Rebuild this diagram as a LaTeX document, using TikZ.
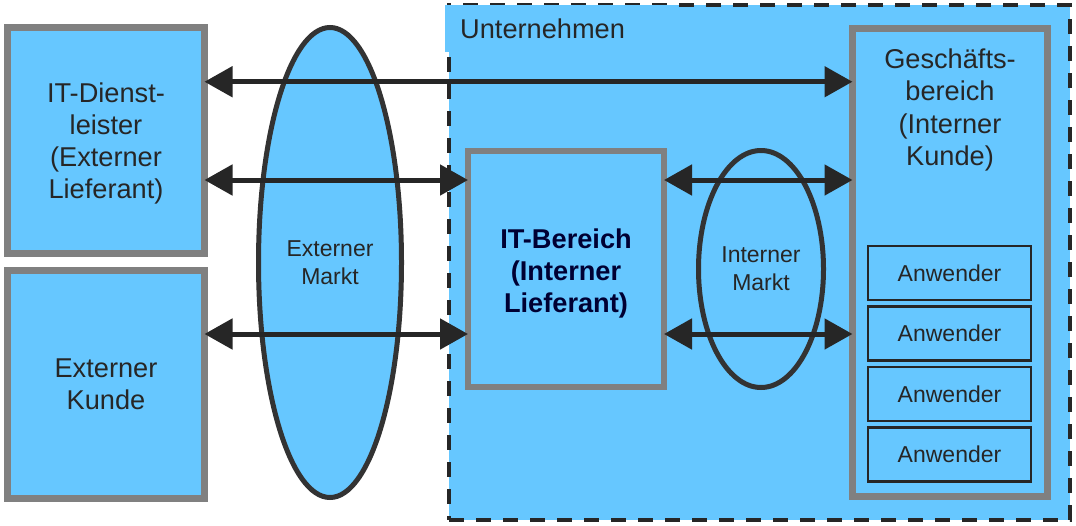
\documentclass[tikz,border=0pt]{standalone}
\usepackage{fontspec}
\setmainfont{Liberation Sans}
\usetikzlibrary{shapes.geometric, arrows.meta, positioning, calc}
\definecolor{skyfill}{RGB}{102,199,255}
\definecolor{boxgray}{RGB}{128,128,128}
\definecolor{darkline}{RGB}{38,38,38}
\definecolor{ringgray}{RGB}{51,51,51}
\definecolor{navytext}{RGB}{0,0,51}
\newcommand{\firstline}[1]{\rule{0pt}{#1}}

\begin{document}
\begin{tikzpicture}[
    x=1pt, y=-1pt,
    font=\fontsize{27.2}{32}\selectfont,
    text=darkline,
    party/.style    = {rectangle, draw=boxgray, line width=6.5pt, fill=skyfill, outer sep=0pt, align=center},
    market/.style   = {ellipse, draw=ringgray, line width=5pt, fill=skyfill, inner sep=0pt, align=center, font=\fontsize{23}{28}\selectfont},
    user/.style     = {rectangle, draw=darkline, line width=2.3pt, fill=skyfill, outer sep=0pt, minimum width=163pt, minimum height=54pt, font=\fontsize{23}{28}\selectfont},
    company/.style  = {rectangle, draw=darkline, line width=4pt, dash pattern=on 15pt off 12pt, fill=skyfill},
    dblarrow/.style = {line width=5pt, draw=darkline, {Triangle[length=28pt,width=30pt]}-{Triangle[length=28pt,width=30pt]}}
]
    \useasboundingbox (0,0) rectangle (1076,525);

    % --- Unternehmen (gestrichelter Rahmen) ---
    \node (unt) [company, minimum width=621pt, minimum height=515pt] at (759.5,262.5) {};
    \node (untlabel) [fill=skyfill, anchor=north west, minimum height=47pt, text width=200pt, inner xsep=15pt, inner ysep=0pt] at (445,5) {Unternehmen};

    % --- Externe Partner (links) ---
    \node (itd) [party, minimum width=197pt, minimum height=226pt] at (106,140.5) {\firstline{26pt}IT-Dienst-\\leister\\(Externer\\Lieferant)};
    \node (ek)  [party, minimum width=197pt, minimum height=228pt, below=17pt of itd] {Externer\\Kunde};

    % --- Externer Markt ---
    \node (extm) [market, minimum width=143pt, minimum height=470pt] at (330,262.5) {Externer\\Markt};

    % --- Interne Akteure ---
    \node (itb)  [party, minimum width=196pt, minimum height=236pt, font=\fontsize{27.2}{32}\selectfont\bfseries, text=navytext] at (566,269) {\firstline{28pt}IT-Bereich\\(Interner\\Lieferant)};
    \node (intm) [market, minimum width=125pt, minimum height=237pt] at (761,269) {Interner\\Markt};
    \node (gb)   [party, minimum width=195pt, minimum height=468pt] at (950,262.5) {};
    \node (gbtext) [align=center, font=\fontsize{27.2}{32.6}\selectfont] at ([yshift=-81.5pt]gb.north) {Geschäfts-\\bereich\\(Interner\\Kunde)};

    % Anwender im Geschaeftsbereich
    \node (anw1) [user] at (949.5,273) {Anwender};
    \node (anw2) [user, below=6.5pt of anw1] {Anwender};
    \node (anw3) [user, below=6.5pt of anw2] {Anwender};
    \node (anw4) [user, below=6.5pt of anw3] {Anwender};

    % --- Beziehungen ---
    \coordinate (row0) at ($(itd.north east)!0.24!(itd.south east)$);
    \coordinate (row1) at ([yshift=-29pt]itb.north west);
    \coordinate (row2) at ([yshift=53pt]itb.south west);

    \draw [dblarrow] (row0) -- (gb.west |- row0);
    \draw [dblarrow] (itd.east |- row1) -- (row1);
    \draw [dblarrow] (ek.east |- row2) -- (row2);
    \draw [dblarrow] (itb.east |- row1) -- (gb.west |- row1);
    \draw [dblarrow] (itb.east |- row2) -- (gb.west |- row2);

\end{tikzpicture}
\end{document}
